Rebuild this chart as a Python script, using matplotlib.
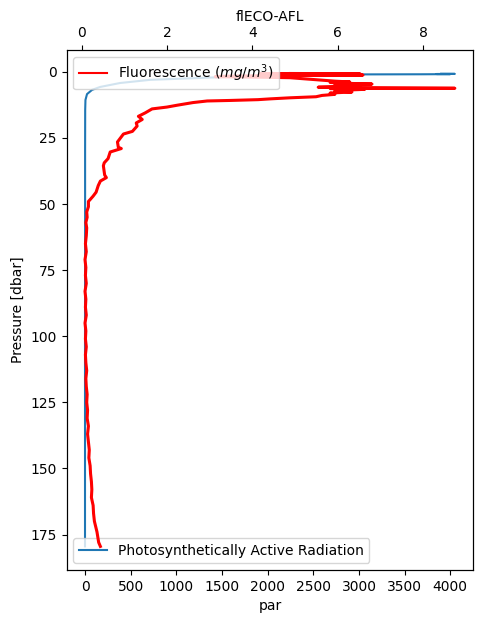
import matplotlib
matplotlib.use("Agg")
import matplotlib.pyplot as plt

# PAR profile (blue, bottom axis)
par_pres = [0.7, 0.75, 0.8, 0.85, 0.9, 0.95, 1.1, 1.35, 1.7, 2.3, 3.0, 4.2,
            5.7, 6.8, 8.4, 10.6, 14.4, 30.0, 60.0, 100.0, 140.0, 179.5]
par = [3900, 4050, 3850, 4000, 3680, 2910, 2500, 2140, 1700, 1262, 714, 384,
       165, 77, 22, 5, 2, 1, 1, 0, 0, 0]

# Fluorescence profile (red, top axis)
fl_pres = [0.6, 0.7, 0.8, 0.9, 1.0, 1.2, 1.4, 1.6, 1.8, 2.0, 2.2,
           3.5, 3.8, 4.0, 4.3, 4.6, 4.9, 5.2, 5.5, 5.8, 6.0, 6.2, 6.3,
           6.6, 6.9, 7.2, 7.6, 8.0, 8.5, 8.9, 9.4, 9.8, 10.2, 10.5, 10.8,
           11.0, 11.6, 12.6, 13.3, 14.0, 15.5, 16.8, 18.0, 19.3, 20.5,
           22.5, 23.5, 25.0, 26.5, 28.5, 29.0, 30.3, 32.8, 34.4, 35.5,
           39.0, 40.0, 41.3, 43.0, 45.5, 47.0, 48.3, 49.0, 51.0, 53.0,
           55.0, 57.0, 59.0, 62.0, 65.0, 68.0, 71.0, 74.0, 77.0, 80.0,
           83.0, 86.0, 89.0, 92.0, 95.0, 98.0, 101.0, 104.0, 107.0, 110.0,
           113.0, 116.0, 119.0, 122.0, 125.0, 128.0, 131.0, 134.0, 137.0,
           140.0, 143.0, 146.0, 149.0, 152.0, 155.0, 158.0, 161.0, 164.0,
           167.0, 170.0, 172.0, 174.0, 176.0, 178.0, 179.5]
fl = [4.89, 6.52, 4.18, 6.05, 5.12, 6.59, 4.65, 3.48, 3.13, 4.18, 4.88,
      5.93, 6.28, 5.82, 6.17, 6.80, 5.93, 6.52, 6.05, 5.54, 6.99, 8.74, 5.82,
      6.63, 6.17, 5.93, 6.33, 5.82, 5.93, 5.63, 5.49, 4.88, 4.42, 4.13, 3.48,
      2.94, 2.61, 2.24, 2.00, 1.65, 1.49, 1.33, 1.42, 1.28, 1.30,
      1.19, 0.98, 0.91, 0.84, 0.86, 0.93, 0.67, 0.62, 0.53, 0.51,
      0.54, 0.58, 0.44, 0.39, 0.34, 0.27, 0.20, 0.16, 0.16, 0.12,
      0.13, 0.10, 0.12, 0.11, 0.09, 0.11, 0.08, 0.10, 0.09, 0.11,
      0.08, 0.10, 0.09, 0.11, 0.08, 0.10, 0.09, 0.11, 0.09, 0.10,
      0.12, 0.10, 0.11, 0.13, 0.12, 0.14, 0.13, 0.16, 0.14,
      0.16, 0.18, 0.17, 0.20, 0.21, 0.23, 0.24, 0.23, 0.27,
      0.28, 0.30, 0.33, 0.36, 0.38, 0.40, 0.44]

fig, ax = plt.subplots(figsize=(4.82, 6.23), dpi=100)
fig.subplots_adjust(left=0.138, right=0.982, top=0.92, bottom=0.085)

ax.plot(par, par_pres, label="Photosynthetically Active Radiation")
ax.invert_yaxis()
ax.set_xlabel("par")
ax.set_ylabel("Pressure [dbar]")
ax.legend(loc="lower left")

ax2 = ax.twiny()
# the raw cast is noisy, so the trace looks heavier than a default line
ax2.plot(fl, fl_pres, color="red", linewidth=2.2)
ax2.plot([], [], color="red", label="Fluorescence ($mg/m^3$)")
ax2.set_xlabel("flECO-AFL")
ax2.legend(loc="upper left")

fig.savefig("out.png", dpi=100)
